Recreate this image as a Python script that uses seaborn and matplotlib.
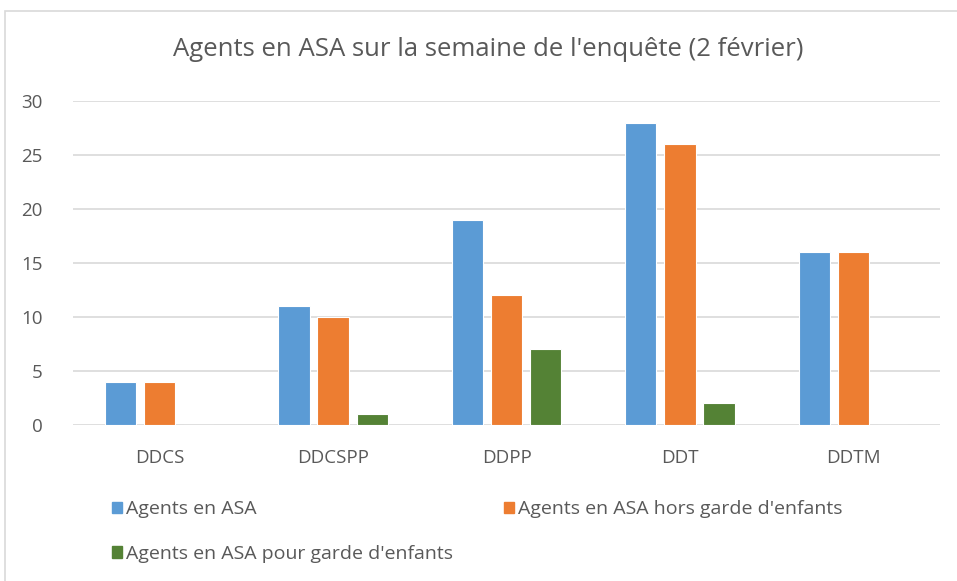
import numpy as np
import pandas as pd
import matplotlib.pyplot as plt
import seaborn as sns
from matplotlib.patches import Rectangle

# Valeurs
services = ['DDCS', 'DDCSPP', 'DDPP', 'DDT', 'DDTM']
agents_asa = [4, 11, 19, 28, 16]
hors_garde = [4, 10, 12, 26, 16]
pour_garde = [0, 1, 7, 2, 0]
series = ['Agents en ASA', 'Agents en ASA hors garde d\'enfants', 'Agents en ASA pour garde d\'enfants']
couleurs = ['#5B9BD5', '#ED7D31', '#548235']

df = pd.DataFrame({
    'service': services * 3,
    'valeur': agents_asa + hors_garde + pour_garde,
    'serie': [series[0]] * 5 + [series[1]] * 5 + [series[2]] * 5,
})

sns.set_style('white')
plt.rcParams['font.family'] = ['Open Sans', 'DejaVu Sans']
gris = '#595959'

fig = plt.figure(figsize=(9.57, 5.81), dpi=100)
ax = fig.add_axes([73 / 957, 1 - 425 / 581, (940 - 73) / 957, (425 - 101) / 581])

sns.barplot(data=df, x='service', y='valeur', hue='serie', palette=couleurs, saturation=1,
            width=0.675, gap=0.2, edgecolor='white', linewidth=0.8, ax=ax, legend=False)

ax.set_ylim(0, 30)
ax.set_yticks([0, 5, 10, 15, 20, 25, 30])
ax.yaxis.grid(True, color='#D9D9D9', linewidth=1.2)
ax.set_axisbelow(True)
for s in ax.spines.values():
    s.set_visible(False)
ax.set_xlabel('')
ax.set_ylabel('')
ax.tick_params(axis='y', length=0, pad=22, labelsize=13.5, labelcolor=gris)
ax.tick_params(axis='x', length=0, pad=17, labelsize=13.5, labelcolor=gris)

fig.text(488 / 957, 1 - 50 / 581, "Agents en ASA sur la semaine de l'enquête (2 février)",
         ha='center', va='center', fontsize=18.5, color=gris)

# ordre pour remplir la légende par ligne
handles = [Rectangle((0, 0), 1, 1, color=c) for c in couleurs]
ordre = [0, 2, 1]
fig.legend([handles[i] for i in ordre], [series[i] for i in ordre], ncol=2, loc='upper left',
           bbox_to_anchor=(94 / 957, 1 - 483 / 581),
           frameon=False, fontsize=14, labelcolor=gris, handlelength=0.55, handleheight=0.55,
           handletextpad=0.2, columnspacing=2.6, labelspacing=1.35)

# cadre du graphique
fig.patches.append(Rectangle((5 / 957, -0.1), 1.1, 1 - 11 / 581 + 0.1, transform=fig.transFigure,
                             fill=False, edgecolor='#D9D9D9', linewidth=1.2))

plt.savefig('out.png', dpi=100)
